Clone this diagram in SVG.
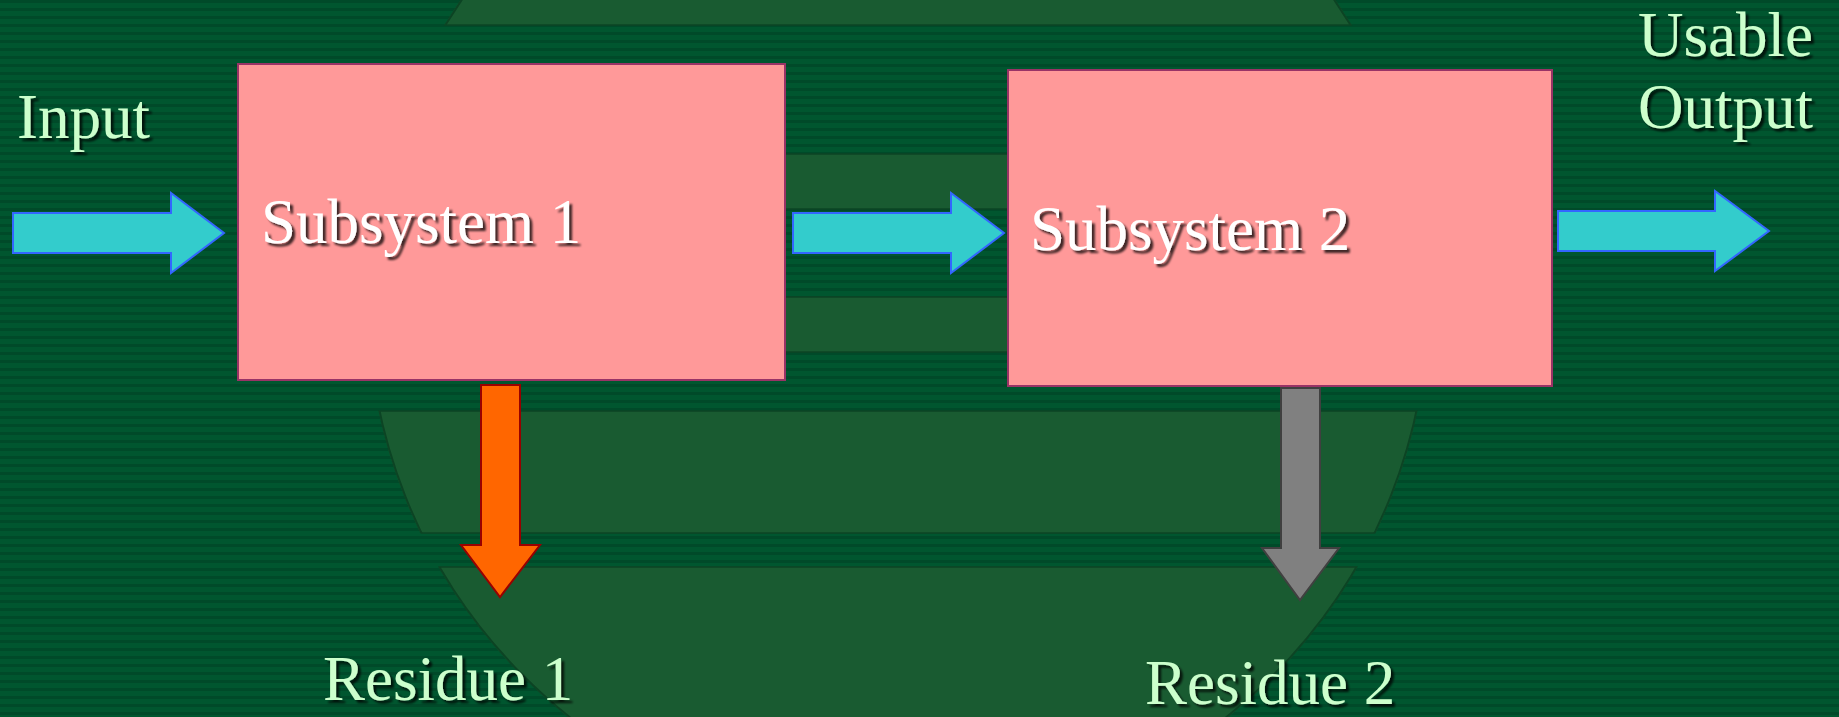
<svg xmlns="http://www.w3.org/2000/svg" width="1839" height="717" viewBox="0 0 1839 717">
  <defs>
    <!-- fine horizontal ribbing of the slide background -->
    <pattern id="ribs" x="0" y="0" width="16" height="8" patternUnits="userSpaceOnUse">
      <rect x="0" y="0" width="16" height="8" fill="#00562f"/>
      <rect x="0" y="0" width="16" height="3" fill="#004a29"/>
    </pattern>
    <!-- sphere outline used to cut the latitude bands -->
    <clipPath id="sphere">
      <circle cx="898" cy="301" r="531"/>
    </clipPath>
    <clipPath id="bandArea">
      <rect x="0" y="-10" width="1839" height="35"/>
      <rect x="0" y="154" width="1839" height="55"/>
      <rect x="0" y="297" width="1839" height="55"/>
      <rect x="0" y="411" width="1839" height="122"/>
      <rect x="0" y="567" width="1839" height="170"/>
    </clipPath>
    <filter id="shadow" x="-10%" y="-20%" width="130%" height="160%">
      <feDropShadow dx="3" dy="3" stdDeviation="1.2" flood-color="#000000" flood-opacity="0.75"/>
    </filter>
  </defs>
  <style>
    .band { fill: #195b31; stroke: #0c4424; stroke-width: 1.5; }
    .box { fill: #ff9999; stroke: #993366; stroke-width: 2; }
    .flow { fill: #33cccc; stroke: #3366ff; stroke-width: 2; stroke-linejoin: miter; }
    .waste { fill: #ff6600; stroke: #990000; stroke-width: 2; }
    .ash { fill: #808080; stroke: #404040; stroke-width: 2; }
    text { font-family: "Liberation Serif", "Times New Roman", serif; font-size: 63px; filter: url(#shadow); }
    .label { fill: #ccffcc; }
    .title { fill: #ffffff; }
  </style>

  <!-- background -->
  <rect x="0" y="0" width="1839" height="717" fill="url(#ribs)"/>

  <!-- latitude bands of the backdrop sphere -->
  <g id="sphere-bands" clip-path="url(#sphere)">
    <rect class="band" x="300" y="-10" width="1200" height="35"/>
    <rect class="band" x="300" y="154" width="1200" height="55"/>
    <rect class="band" x="300" y="297" width="1200" height="55"/>
    <rect class="band" x="300" y="411" width="1200" height="122"/>
    <rect class="band" x="300" y="567" width="1200" height="170"/>
  </g>
  <g clip-path="url(#bandArea)">
    <circle cx="898" cy="301" r="530" fill="none" stroke="#0c4424" stroke-width="2"/>
  </g>

  <!-- subsystems -->
  <g id="subsystem-1">
    <rect class="box" x="238" y="64" width="547" height="316"/>
    <text class="title" x="261" y="243">Subsystem 1</text>
  </g>
  <g id="subsystem-2">
    <rect class="box" x="1008" y="70" width="544" height="316"/>
    <text class="title" x="1030" y="250">Subsystem 2</text>
  </g>

  <!-- block arrows between stages -->
  <g id="connectors">
    <polygon id="arrow-input" class="flow" points="13,213 171,213 171,193 224,233 171,273 171,253 13,253"/>
    <polygon id="arrow-middle" class="flow" points="793,213 951,213 951,193 1004,233 951,273 951,253 793,253"/>
    <polygon id="arrow-output" class="flow" points="1558,211 1715,211 1715,191 1769,231 1715,271 1715,251 1558,251"/>
    <polygon id="arrow-residue-1" class="waste" points="481,385 520,385 520,545 540,545 500,597 461,545 481,545"/>
    <polygon id="arrow-residue-2" class="ash" points="1281,388 1320,388 1320,548 1339,548 1300,600 1262,548 1281,548"/>
  </g>

  <!-- terminal labels -->
  <g id="input">
    <text class="label" x="17" y="138">Input</text>
  </g>
  <g id="usable-output">
    <text class="label" x="1813" y="56" text-anchor="end">Usable</text>
    <text class="label" x="1813" y="128" text-anchor="end">Output</text>
  </g>
  <g id="residue-1">
    <text class="label" x="323" y="700">Residue 1</text>
  </g>
  <g id="residue-2">
    <text class="label" x="1145" y="704">Residue 2</text>
  </g>
</svg>
